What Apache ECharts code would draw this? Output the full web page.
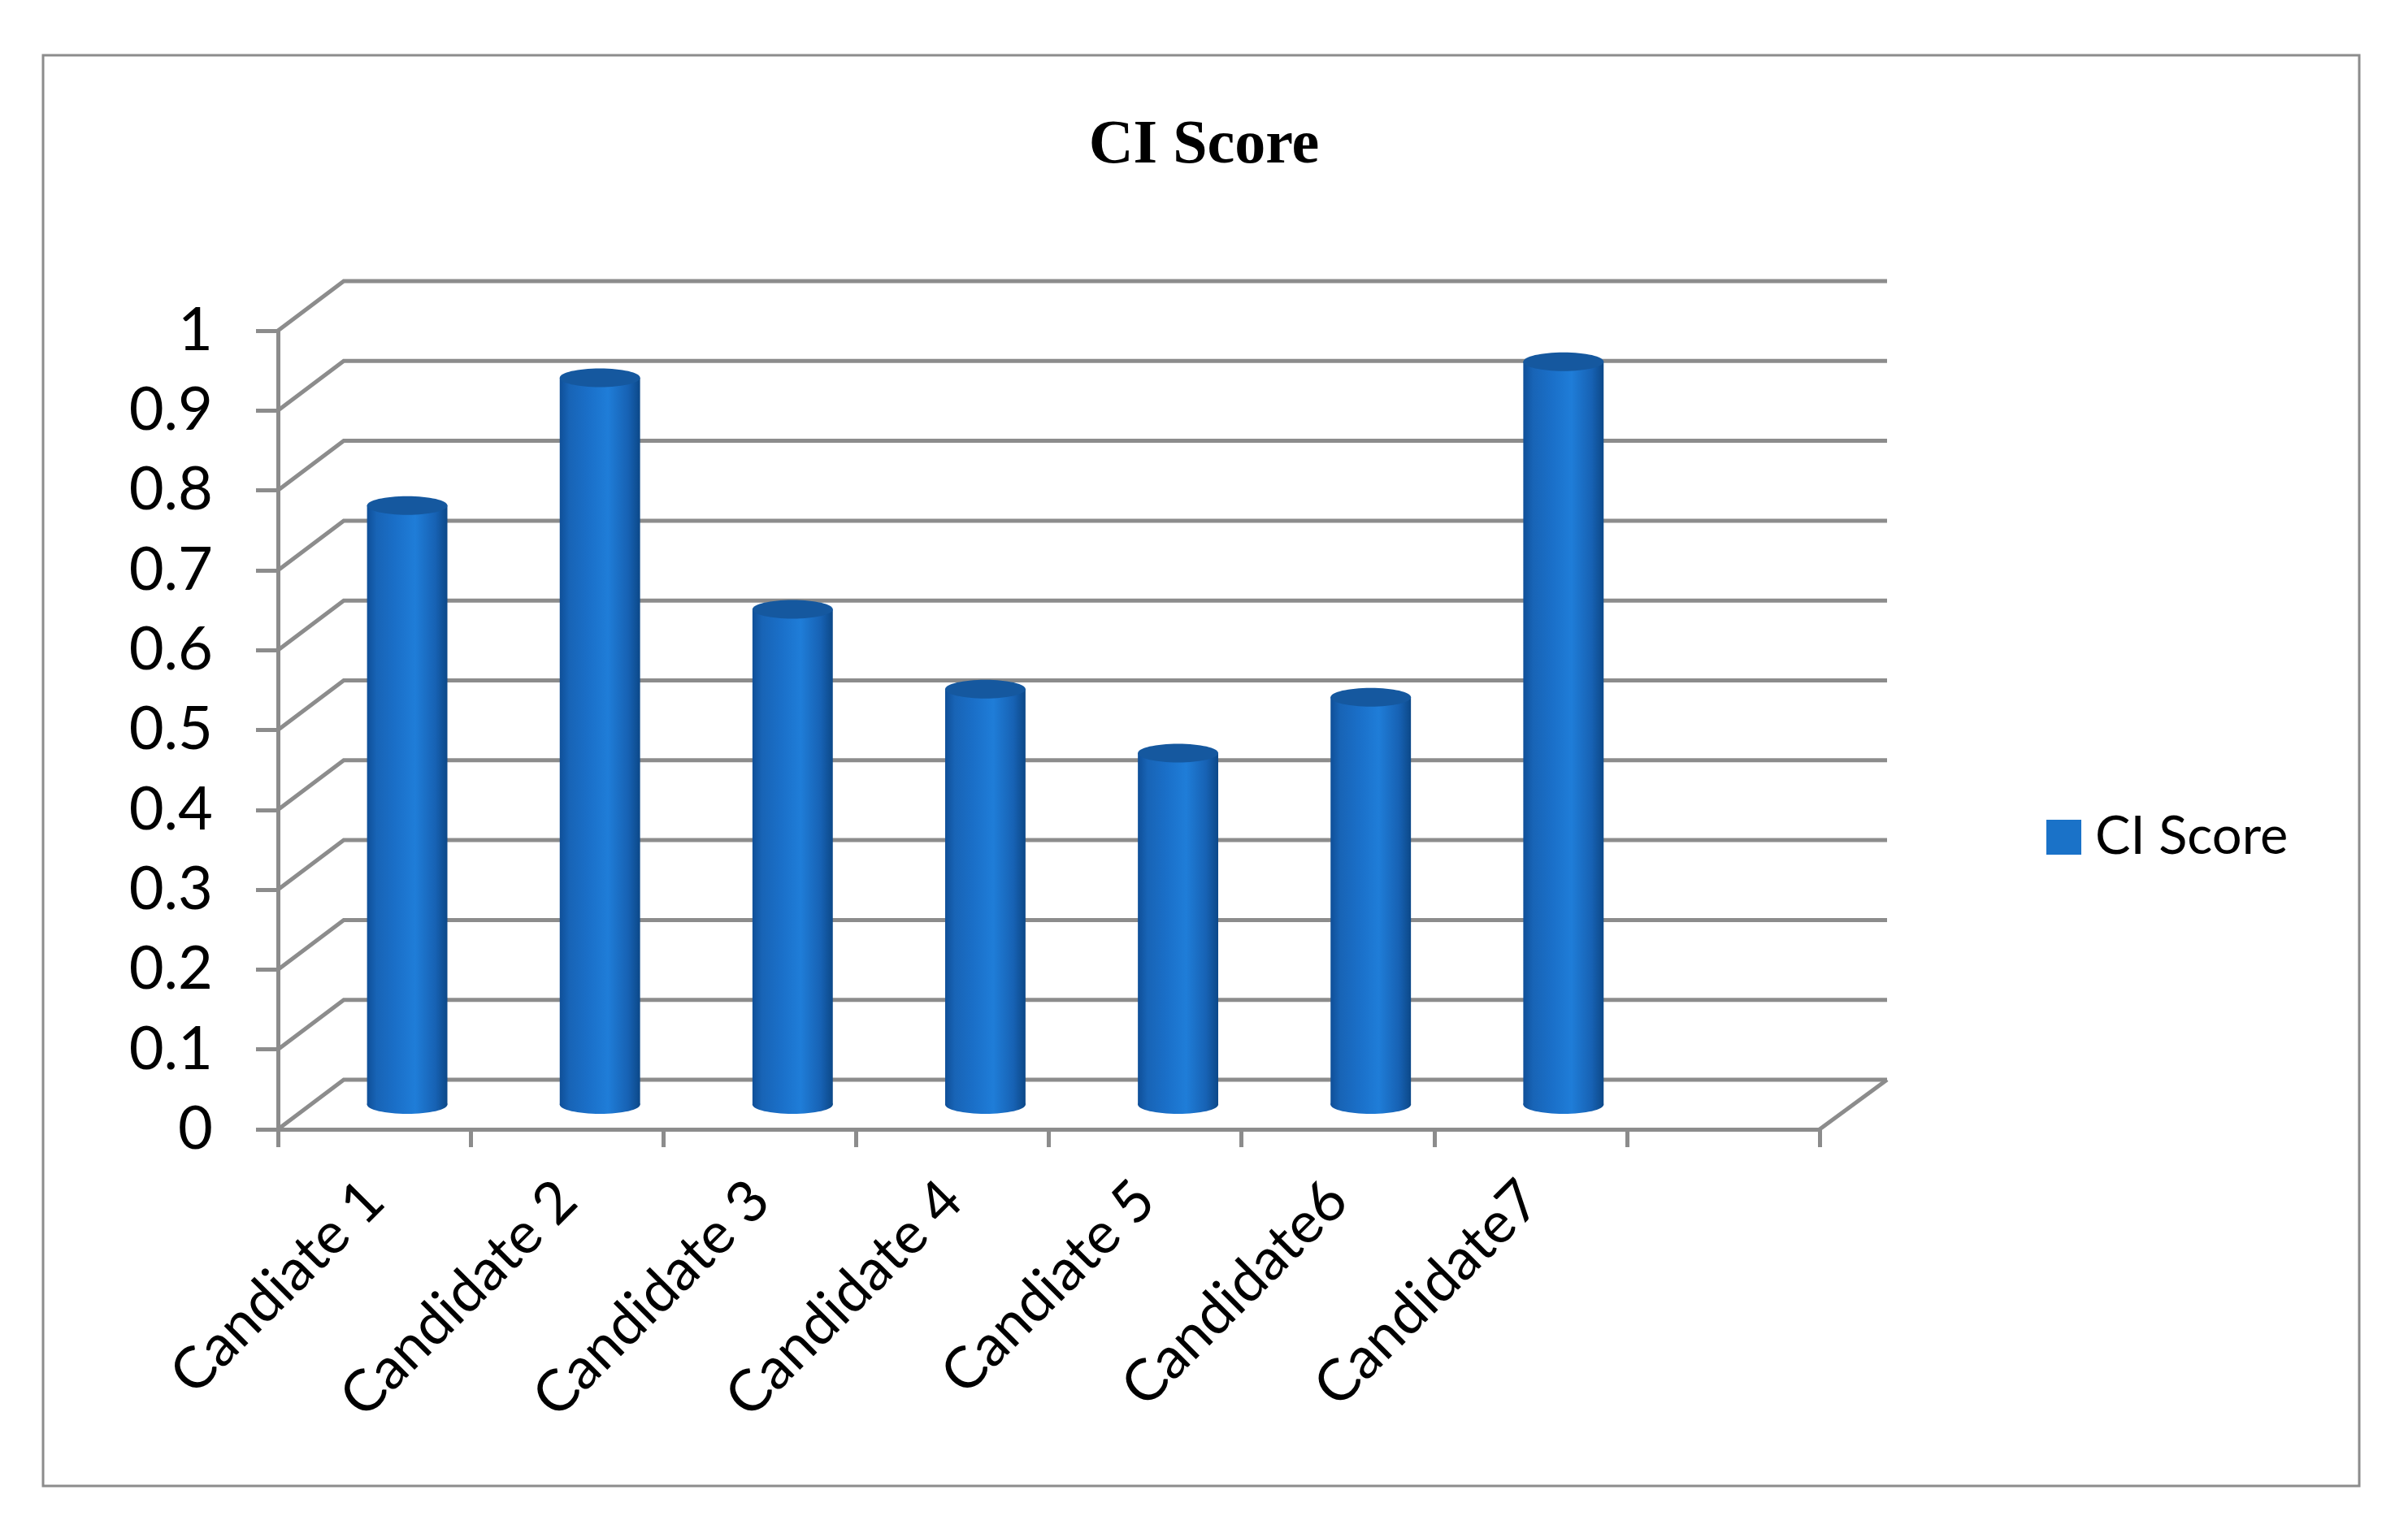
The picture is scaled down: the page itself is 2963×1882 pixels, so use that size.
<!DOCTYPE html>
<html>
<head>
<meta charset="utf-8">
<title>CI Score</title>
<script src="https://cdn.jsdelivr.net/npm/echarts@6/dist/echarts.min.js"></script>
<style>
  html, body { margin: 0; padding: 0; background: #fff; }
  #chart-ci { width: 2963px; height: 1882px; }
</style>
</head>
<body>
<div id="chart-ci"></div>
<script>
// CI Score - 3D cylinder column chart
// ============================================================================

// Data
const candidates = ['Candiate 1', 'Candidate 2', 'Candidate 3', 'Candidate 4', 'Candiate 5', 'Candidate6', 'Candidate7'];
const ciScores = [0.75, 0.91, 0.62, 0.52, 0.44, 0.51, 0.93];
const yTicks = [0, 0.1, 0.2, 0.3, 0.4, 0.5, 0.6, 0.7, 0.8, 0.9, 1];
const seriesName = 'CI Score';

// Look
const GRID_COLOR = '#8c8c8c';
const GRID_WIDTH = 5;
const DEPTH_X = 81;       // back wall offset, left side
const DEPTH_X_RIGHT = 83; // back wall offset, right side (slight perspective)
const DEPTH_Y = 61;
const BAR_RATIO = 0.417;  // cylinder width / category width
const CAP_RY = 11.5;
const SANS = 'Lato, "Noto Sans", sans-serif';

const bodyGradient = () => new echarts.graphic.LinearGradient(0, 0, 1, 0, [
    { offset: 0, color: '#0f4f98' },
    { offset: 0.12, color: '#1864b6' },
    { offset: 0.35, color: '#1a6fc8' },
    { offset: 0.6, color: '#1f7dd8' },
    { offset: 0.85, color: '#1762b4' },
    { offset: 1, color: '#0c4888' }
]);

// Back wall + floor lines, one polyline per y tick
function renderWall(params, api) {
    const cs = params.coordSys;
    const v = api.value(1);
    const y = api.coord([0, v])[1];
    const x0 = cs.x;
    const x1 = cs.x + cs.width;
    const style = { stroke: GRID_COLOR, lineWidth: GRID_WIDTH, fill: null, lineJoin: 'miter' };
    const children = [{
        type: 'polyline',
        shape: { points: [[x0, y], [x0 + DEPTH_X, y - DEPTH_Y], [x1 + DEPTH_X_RIGHT, y - DEPTH_Y]] },
        style: style
    }];
    if (v === 0) {
        children.push({
            type: 'line',
            shape: { x1: x1, y1: y, x2: x1 + DEPTH_X_RIGHT, y2: y - DEPTH_Y },
            style: style
        });
    }
    return { type: 'group', children: children };
}

// Cylinder column sitting at mid depth
function renderCylinder(params, api) {
    const idx = api.value(0);
    const val = api.value(1);
    const base = api.coord([idx, 0]);
    const top = api.coord([idx, val]);
    const w = api.size([1, 0])[0] * BAR_RATIO;
    const rx = w / 2;
    const cx = base[0] + DEPTH_X / 2;
    const yb = base[1] - DEPTH_Y / 2;
    const yt = top[1] - DEPTH_Y / 2;
    return {
        type: 'group',
        children: [
            { type: 'ellipse', shape: { cx: cx, cy: yb, rx: rx, ry: CAP_RY }, style: { fill: bodyGradient() } },
            { type: 'rect', shape: { x: cx - rx, y: yt, width: w, height: yb - yt }, style: { fill: bodyGradient() } },
            { type: 'ellipse', shape: { cx: cx, cy: yt, rx: rx, ry: CAP_RY }, style: { fill: '#15589f' } }
        ]
    };
}

const chart = echarts.init(document.getElementById('chart-ci'));
const option = {
    backgroundColor: '#ffffff',
    animation: false,
    title: {
        text: 'CI Score',
        left: 'center',
        top: 137,
        textStyle: {
            fontFamily: '"Liberation Serif", "Times New Roman", serif',
            fontWeight: 'bold',
            fontSize: 76,
            color: '#000'
        }
    },
    legend: {
        data: [seriesName],
        left: 2513,
        top: 993,
        icon: 'rect',
        itemWidth: 43,
        itemHeight: 43,
        textStyle: { fontFamily: SANS, fontSize: 65, color: '#000', padding: [0, 0, 0, 12] }
    },
    graphic: [{
        type: 'rect',
        shape: { x: 53, y: 68, width: 2850, height: 1761 },
        style: { fill: null, stroke: '#8c8c8c', lineWidth: 3 },
        silent: true
    }],
    grid: { left: 342, right: 724, top: 407, bottom: 492, containLabel: false },
    xAxis: {
        type: 'category',
        data: candidates.concat(['']),
        boundaryGap: true,
        axisLine: { show: true, lineStyle: { color: GRID_COLOR, width: GRID_WIDTH } },
        axisTick: { show: true, length: 22, interval: 0, lineStyle: { color: GRID_COLOR, width: GRID_WIDTH } },
        axisLabel: {
            interval: 0,
            rotate: 45,
            margin: 76,
            fontFamily: SANS,
            fontSize: 71,
            color: '#000'
        }
    },
    yAxis: {
        type: 'value',
        min: 0,
        max: 1,
        interval: 0.1,
        axisLine: { show: true, lineStyle: { color: GRID_COLOR, width: GRID_WIDTH } },
        axisTick: { show: true, length: 27, lineStyle: { color: GRID_COLOR, width: GRID_WIDTH } },
        splitLine: { show: false },
        axisLabel: { margin: 80, fontFamily: SANS, fontSize: 74, color: '#000' }
    },
    series: [
        {
            name: 'wall',
            type: 'custom',
            silent: true,
            z: 1,
            renderItem: renderWall,
            encode: { x: 0, y: 1 },
            data: yTicks.map(v => [0, v])
        },
        {
            name: seriesName,
            type: 'custom',
            z: 3,
            itemStyle: { color: '#1a72c8' },
            renderItem: renderCylinder,
            encode: { x: 0, y: 1 },
            data: ciScores.map((v, i) => [i, v])
        }
    ]
};
chart.setOption(option);

window.addEventListener('resize', () => chart.resize());
</script>
</body>
</html>
